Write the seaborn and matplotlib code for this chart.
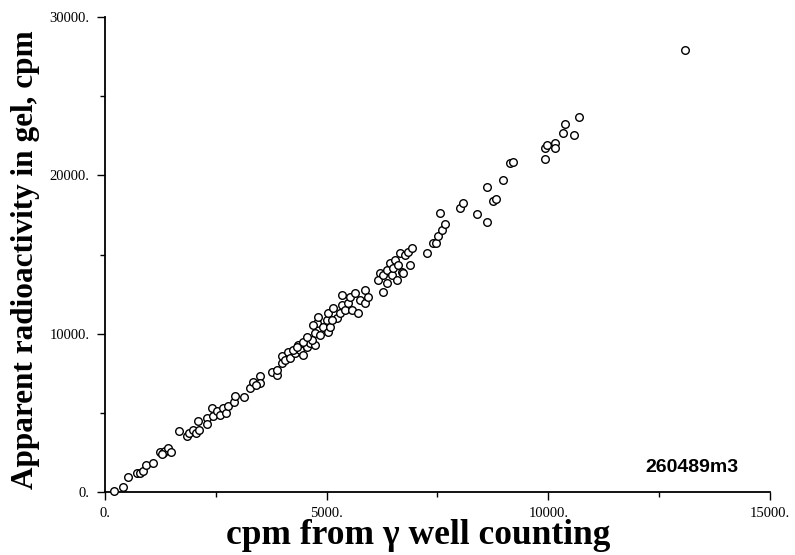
import matplotlib
matplotlib.use("Agg")
import matplotlib.pyplot as plt
import seaborn as sns
import pandas as pd
from matplotlib.ticker import MultipleLocator, FuncFormatter

# cpm from gamma well counting
GAMMA_CPM = [
    200, 400, 525, 715, 790, 865, 925, 1075, 1240, 1315, 1355, 1430, 1480, 1285,
    1670, 1845, 1900, 1990, 2055, 2115, 2105, 2295, 2310, 2405, 2445, 2535, 2595,
    2670, 2730, 2780, 2915, 2935, 3135, 3270, 3345, 3495, 3495, 3405, 3760, 3875,
    3885, 3985, 3985, 4060, 4135, 4175, 4285, 4360, 4400, 4475, 4550, 4625, 4735,
    4775, 4735, 4850, 4925, 5035, 4250, 4475, 4665, 4700, 5000, 5035, 5075, 5150,
    5225, 5300, 5340, 5340, 5415, 5490, 5525, 5565, 5640, 5715, 5755, 5865, 5865,
    5940, 6205, 6280, 6355, 6165, 4325, 4550, 4810, 5115, 6280, 6355, 6430, 6470,
    6505, 6540, 6580, 6615, 6695, 6730, 6655, 6770, 6880, 6840, 6920, 7255, 7405,
    7465, 7520, 7595, 7670, 7555, 8010, 8085, 8400, 8610, 8610, 8760, 8820, 8985,
    9135, 9210, 9925, 9925, 9965, 10150, 10150, 10340, 10375, 10580, 10700, 13085,
]

# apparent radioactivity in gel, cpm
GEL_CPM = [
    60, 330, 930, 1220, 1180, 1345, 1690, 1815, 2510, 2485, 2610, 2760, 2510, 2400,
    3875, 3540, 3710, 3915, 3710, 3915, 4505, 4655, 4295, 5290, 4800, 5115, 4865,
    5290, 5010, 5435, 5705, 6065, 6020, 6550, 6970, 7330, 6865, 6760, 7600, 7390,
    7705, 8130, 8590, 8340, 8865, 8445, 8760, 9285, 8970, 8655, 9180, 9395, 9285,
    10655, 10025, 9920, 10445, 10125, 8970, 9495, 9605, 10550, 10865, 11290, 10445, 11605,
    10975, 11290, 11815, 12445, 11500, 11920, 12340, 11500, 12555, 11290, 12130, 12760, 11920,
    12340, 13815, 12655, 13185, 13395, 9180, 9815, 11075, 10865, 13710, 14025, 14450, 13710,
    14130, 14655, 13395, 14340, 13915, 13815, 15080, 14970, 14340, 15180, 15395, 15080, 15710,
    15750, 16170, 16550, 16930, 17625, 17920, 18275, 17545, 17075, 19285, 18385, 18490, 19710,
    20805, 20865, 21020, 21715, 21920, 22065, 21715, 22660, 23250, 22535, 23670, 27920,
]

X_TICKS = [0, 5000, 10000, 15000]
Y_TICKS = [0, 10000, 20000, 30000]
SAMPLE_ID = "260489m3"


def main():
    sns.set_theme(style="ticks")
    plt.rcParams["font.family"] = ["Liberation Serif", "DejaVu Serif"]

    df = pd.DataFrame({"gamma": GAMMA_CPM, "gel": GEL_CPM})

    fig = plt.figure(figsize=(7.95, 5.55), dpi=100)
    ax = fig.add_axes([0.132, 0.1135, 0.8366, 0.8556])

    sns.scatterplot(data=df, x="gamma", y="gel", ax=ax, marker="o", s=30,
                    facecolor="white", edgecolor="black", linewidth=1.0,
                    legend=False, clip_on=False, zorder=3)

    ax.set_xlim(0, 15000)
    ax.set_ylim(0, 30000)
    ax.set_xticks(X_TICKS)
    ax.set_yticks(Y_TICKS)
    ax.xaxis.set_minor_locator(MultipleLocator(2500))
    ax.yaxis.set_minor_locator(MultipleLocator(5000))
    fmt = FuncFormatter(lambda v, pos: "{:d}.".format(int(v)))
    ax.xaxis.set_major_formatter(fmt)
    ax.yaxis.set_major_formatter(fmt)

    ax.tick_params(which="major", direction="out", length=6, width=1.0,
                   labelsize=10.5, color="black", labelcolor="black", pad=5)
    ax.tick_params(which="minor", direction="out", length=3.5, width=1.0,
                   color="black")
    for side in ["top", "right"]:
        ax.spines[side].set_visible(False)
    for side in ["left", "bottom"]:
        ax.spines[side].set_linewidth(1.3)
        ax.spines[side].set_color("black")

    ax.set_xlabel("cpm from γ well counting", fontsize=25.5, fontweight="bold",
                  color="black")
    ax.xaxis.set_label_coords(0.471, -0.057, transform=ax.transAxes)
    ax.xaxis.label.set_verticalalignment("top")
    ax.set_ylabel("Apparent radioactivity in gel, cpm", fontsize=22.5,
                  fontweight="bold", color="black")
    ax.yaxis.set_label_coords(-0.097, 0.49, transform=ax.transAxes)

    ax.text(0.812, 0.042, SAMPLE_ID, transform=ax.transAxes, fontsize=14,
            fontweight="bold", va="baseline",
            family=["Liberation Sans", "DejaVu Sans"], color="black")

    fig.savefig("out.png", dpi=100)
    plt.close(fig)


if __name__ == "__main__":
    main()
